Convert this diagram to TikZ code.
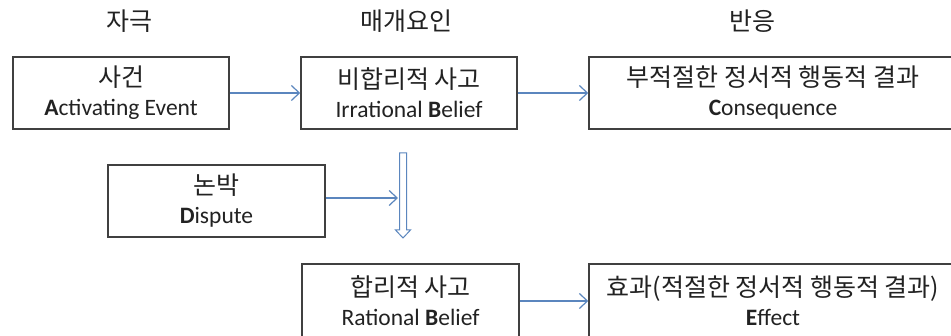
\documentclass[tikz,border=0pt]{standalone}
\usepackage{fontspec}
\setmainfont{Carlito}
\newfontfamily\kr{Noto Sans CJK KR}
\usetikzlibrary{arrows.meta}
\definecolor{boxline}{HTML}{404040}
\definecolor{arrowblue}{HTML}{5B86BE}
\definecolor{txt}{HTML}{222222}
\newcommand{\krtxt}[1]{{\kr\fontsize{25}{29}\selectfont #1}}
\begin{document}
\begin{tikzpicture}[x=1pt,y=-1pt,
  box/.style={draw=boxline,line width=1.5pt,fill=white,align=center,inner sep=0pt,
    font=\fontsize{23.5}{29}\selectfont,text=txt},
  flow/.style={draw=arrowblue,line width=1.2pt,-{Straight Barb[length=8pt,width=15pt,line width=1.2pt]}},
  hdr/.style={font=\kr\fontsize{25}{28}\selectfont,text=txt}]
\useasboundingbox (0,0) rectangle (951,336);
\clip (0,0) rectangle (951,336);
\fill[white] (0,0) rectangle (951,336);
% headers
\node[hdr] (h1) at (129,21) {자극};
\node[hdr] (h2) at (406,21) {매개요인};
\node[hdr] (h3) at (752,21) {반응};
% boxes
\node[box,minimum width=216pt,minimum height=72pt] (A) at (121,93)
  {\krtxt{사건}\\\textbf{A}ctivating Event};
\node[box,minimum width=216pt,minimum height=72pt] (B) at (409,93)
  {\krtxt{비합리적 사고}\\Irrational \textbf{B}elief};
\node[box,minimum width=368pt,minimum height=72pt] (C) at (773,93)
  {\krtxt{부적절한 정서적 행동적 결과}\\\textbf{C}onsequence};
\node[box,minimum width=217pt,minimum height=72pt] (D) at (216.5,201)
  {\krtxt{논박}\\\textbf{D}ispute};
\node[box,minimum width=217pt,minimum height=74pt] (E) at (410.5,301)
  {\krtxt{합리적 사고}\\Rational \textbf{B}elief};
\node[box,minimum width=368pt,minimum height=74pt] (F) at (773,301)
  {\krtxt{효과(적절한 정서적 행동적 결과)}\\\textbf{E}ffect};
% hollow down arrow
\draw[draw=arrowblue,line width=1pt,line join=miter]
  (399.5,153) -- (406.5,153) -- (406.5,230) -- (410.5,230) -- (403,238)
  -- (395.5,230) -- (399.5,230) -- cycle;
\coordinate (dbl) at (398,198);
% connectors
\draw[flow] (A.east) -- (B.west);
\draw[flow] (B.east) -- (C.west);
\draw[flow] (D.east |- dbl) -- (dbl);
\draw[flow] (E.east) -- (F.west);
\end{tikzpicture}
\end{document}
